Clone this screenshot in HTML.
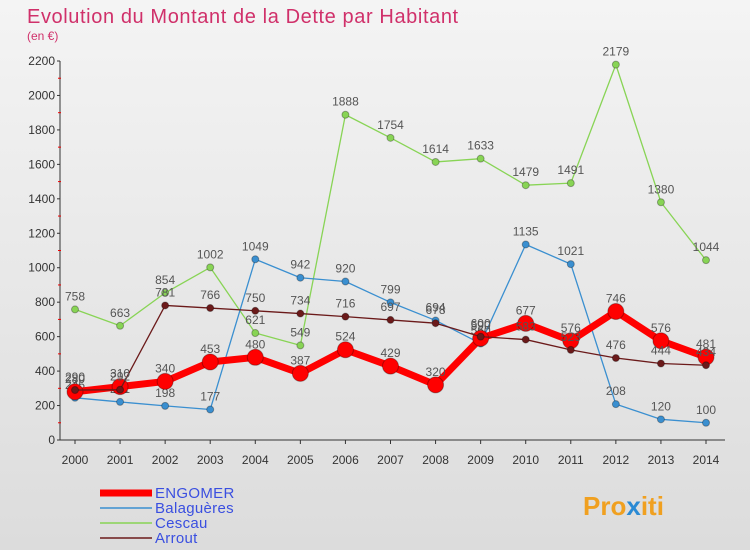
<!DOCTYPE html>
<html><head><meta charset="utf-8"><style>
body{margin:0;width:750px;height:550px;overflow:hidden;font-family:"Liberation Sans",sans-serif}
</style></head><body>
<svg width="750" height="550" xmlns="http://www.w3.org/2000/svg">
<defs><linearGradient id="bg" x1="0" y1="0" x2="0" y2="1"><stop offset="0" stop-color="#f4f4f4"/><stop offset="1" stop-color="#dcdcdc"/></linearGradient></defs>
<rect width="750" height="550" fill="url(#bg)"/>
<text x="27" y="23" font-size="20" letter-spacing="0.6" fill="#d0306a">Evolution du Montant de la Dette par Habitant</text>
<text x="27" y="40" font-size="12" fill="#d0306a">(en €)</text>
<g id="axes"></g><g id="series"></g><g id="legend"></g>
<text x="583" y="515" font-size="26" font-weight="bold" fill="#f0a020">Pro<tspan fill="#2a8ad4">x</tspan>iti</text>
</svg>
<script>
const years=["2000","2001","2002","2003","2004","2005","2006","2007","2008","2009","2010","2011","2012","2013","2014"];
const yTicks=[0,200,400,600,800,1000,1200,1400,1600,1800,2000,2200];
const engomer=[280,310,340,453,480,387,524,429,320,590,677,576,746,576,481];
const balagueres=[245,221,198,177,1049,942,920,799,694,560,1135,1021,208,120,100];
const cescau=[758,663,854,1002,621,549,1888,1754,1614,1633,1479,1491,2179,1380,1044];
const arrout=[290,292,781,766,750,734,716,697,678,600,583,523,476,444,434];
const NS="http://www.w3.org/2000/svg";
const X=i=>75+i*(706-75)/14, Y=v=>440-v*(379/2200);
function mk(t,a,p){const e=document.createElementNS(NS,t);for(const k in a)e.setAttribute(k,a[k]);p.appendChild(e);return e;}
const ax=document.getElementById('axes');
let l=mk('line',{x1:60,y1:Y(0),x2:725,y2:Y(0),stroke:'#333'},ax);


l=mk('line',{x1:60,y1:Y(0),x2:60,y2:Y(2200),stroke:'#333'},ax);


yTicks.forEach(v=>{const t=mk('text',{x:55,y:Y(v)+4,'font-size':12,'text-anchor':'end',fill:'#333'},ax);t.textContent=v;


mk('line',{x1:57,y1:Y(v),x2:60,y2:Y(v),stroke:'#333'},ax);
if(v<2200)mk('line',{x1:58,y1:Y(v+100),x2:61,y2:Y(v+100),stroke:'#e00'},ax);});
years.forEach((y,i)=>{const t=mk('text',{x:X(i),y:464,'font-size':12,'text-anchor':'middle',fill:'#333'},ax);t.textContent=y;


mk('line',{x1:X(i),y1:440,x2:X(i),y2:444,stroke:'#333'},ax);});
const sg=document.getElementById('series');
function series(data,color,w,r,name){const g=mk('g',{},sg);


mk('polyline',{points:data.map((v,i)=>X(i)+','+Y(v)).join(' '),fill:'none',stroke:color,'stroke-width':w,'stroke-linejoin':'round'},g);
data.forEach((v,i)=>{const c=mk('circle',{cx:X(i),cy:Y(v),r:r,fill:color,stroke:'rgba(0,0,0,0.3)'},g);


const t=mk('text',{x:X(i),y:Y(v)-9,'font-size':12,'text-anchor':'middle',fill:'#555'},g);t.textContent=v;

});}
series(cescau,'#88d455',1.3,3.5,'cescau');
series(balagueres,'#3a8fd0',1.3,3.5,'balagueres');
series(engomer,'#ff0000',7,8,'engomer');
series(arrout,'#6b1a1a',1.3,3.5,'arrout');
const lg=document.getElementById('legend');
[['ENGOMER','#ff0000',7],['Balaguères','#3a8fd0',1.5],['Cescau','#88d455',1.5],['Arrout','#6b1a1a',1.5]].forEach((d,i)=>{
const y=493+i*15;const ln=mk('line',{x1:100,y1:y,x2:152,y2:y,stroke:d[1],'stroke-width':d[2]},lg);


const t=mk('text',{x:155,y:y+5,'font-size':15,'letter-spacing':'0.3',fill:'#3a4fe0'},lg);t.textContent=d[0];

});
</script>
</body></html>
